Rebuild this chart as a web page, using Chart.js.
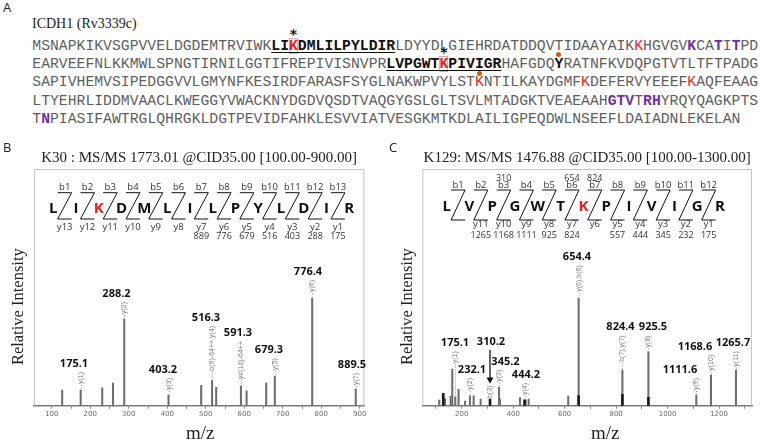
<!DOCTYPE html>
<html>
<head>
<meta charset="utf-8">
<script src="https://cdn.jsdelivr.net/npm/chart.js@4.4.1/dist/chart.umd.min.js"></script>
<style>
  html, body { margin: 0; padding: 0; background: #fff; }
  #fig { position: relative; width: 760px; height: 445px; overflow: hidden; }
  .plabel { position: absolute; font: 13px "Open Sans", sans-serif; color: #222; line-height: 1; z-index: 2; }
  #seqTitle { position: absolute; left: 32px; top: 15px; font: 14px/18px "Liberation Serif", serif; color: #222; }
  #seq { position: absolute; left: 32.3px; top: 36.5px; font: 14.75px/18.4px "Liberation Mono", monospace; color: #5e5e5e; white-space: pre; }
  #seq > div { position: relative; }
  .pep { color: #111; font-weight: bold; text-decoration: underline; text-underline-offset: 2px; }
  .red { color: #ec1c24; }
  .pur { color: #7030a0; font-weight: bold; }
  .blk { color: #111; font-weight: bold; }
  .mod { color: #ec1c24; position: relative; box-shadow: inset 0 0 0 1px #f4a3a3; }
  .mod::before { content: '*'; position: absolute; left: 0; right: 0; text-align: center; top: -11px;
                 font: bold 14px/14px "DejaVu Sans", sans-serif; color: #111; z-index: 3; }
  .dot { position: relative; }
  .dot::after { content: ''; position: absolute; width: 5px; height: 5px; border-radius: 50%;
                background: #c0600f; left: 50%; margin-left: -2.5px; top: -3.5px; }
  canvas { position: absolute; top: 140px; }
  #chartB { left: 0; }
  #chartC { left: 380px; }
</style>
</head>
<body>
<div id="fig">
  <div class="plabel" style="left:3px;top:1px">A</div>
  <div id="seqTitle">ICDH1 (Rv3339c)</div>
  <div id="seq"><div>MSNAPKIKVSGPVVELDGDEMTRVIWK<span class="pep">LI<span class="mod">K</span>DMLILPYLDIR</span>LDYYDLGIEHRDATDDQVTIDAAYAIK<span class="red">K</span>HGVGV<span class="pur">K</span>CA<span class="pur">T</span>I<span class="pur">T</span>PD</div><div>EARVEEFNLKKMWLSPNGTIRNILGGTIFREPIVISNVPR<span class="pep">LVPGWT<span class="mod">K</span>PIVIGR</span>HAFGDQ<span class="blk dot">Y</span>RATNFKVDQPGTVTLTFTPADG</div><div>SAPIVHEMVSIPEDGGVVLGMYNFKESIRDFARASFSYGLNAKWPVYLST<span class="red dot">K</span>NTILKAYDGMF<span class="red">K</span>DEFERVYEEEF<span class="red">K</span>AQFEAAG</div><div>LTYEHRLIDDMVAACLKWEGGYVWACKNYDGDVQSDTVAQGYGSLGLTSVLMTADGKTVEAEAAH<span class="pur">GTV</span>T<span class="pur">RH</span>YRQYQAGKPTS</div><div>T<span class="pur">N</span>PIASIFAWTRGLQHRGKLDGTPEVIDFAHKLESVVIATVESGKMTKDLAILIGPEQDWLNSEEFLDAIADNLEKELAN</div></div>
  <div class="plabel" style="left:3px;top:141px">B</div>
  <div class="plabel" style="left:389px;top:141px">C</div>
  <canvas id="chartB" width="380" height="305"></canvas>
  <canvas id="chartC" width="380" height="305"></canvas>
</div>
<script>
// ---------- panel B : K30, peptide LIKDMLILPYLDIR ----------
const peptideB = ['L','I','K','D','M','L','I','L','P','Y','L','D','I','R'];
const bIonB = ['b1','b2','b3','b4','b5','b6','b7','b8','b9','b10','b11','b12','b13'];
const bMassB = ['','','','','','','','','','','','',''];
const yIonB = ['y13','y12','y11','y10','y9','y8','y7','y6','y5','y4','y3','y2','y1'];
const yMassB = ['','','','','','','889','776','679','516','403','288','175'];
const mzB = [127, 175.1, 231, 259, 288.2, 403.2, 488, 516.3, 527, 591.3, 606, 657, 679.3, 776.4, 889.5];
const intensityB = [6.6, 6.6, 7.6, 9.6, 36.6, 4.5, 8.6, 10.6, 7.8, 8.3, 6.3, 9.6, 12.5, 45.5, 7.0];
const peakLabelB = ['175.1','288.2','403.2','516.3','591.3','679.3','776.4','889.5'];
const ionNoteB = ['y(1)','y(2)','y(3)','b(9)-64++,y(4)','y#(10)-64++','y(5)','y(6)','y(7)'];
const tickLabelB = [100, 200, 300, 400, 500, 600, 700, 800, 900];

// ---------- panel C : K129, peptide LVPGWTKPIVIGR ----------
const peptideC = ['L','V','P','G','W','T','K','P','I','V','I','G','R'];
const bIonC = ['b1','b2','b3','b4','b5','b6','b7','b8','b9','b10','b11','b12'];
const bMassC = ['','','310','','','654','824','','','','',''];
const yIonC = ['','y11','y10','y9','y8','y7','y6','y5','y4','y3','y2','y1'];
const yMassC = ['','1265','1168','1111','925','824','','557','444','345','232','175'];
const mzC = [113, 135, 157, 163.5, 175.1, 188, 213, 232.1, 246.6, 273.8, 345.2, 349, 426.6, 448.7, 460.4, 614, 654.4, 824.4, 925.5, 1111.6, 1168.6, 1265.7];
const intensityC = [2.4, 3.0, 4.1, 15.5, 3.8, 6.9, 2.0, 4.2, 4.2, 2.8, 7.8, 2.8, 3.4, 2.4, 2.8, 4.1, 45.5, 15.1, 22.8, 4.5, 13.0, 15.1];
const mzDarkC = [128.5, 310.2, 444.2, 654.4, 824.4, 925.5];
const intensityDarkC = [5.2, 2.8, 2.5, 4.3, 4.8, 3.5];
const peakLabelC = ['175.1','232.1','310.2','345.2','444.2','654.4','824.4','925.5','1111.6','1168.6','1265.7'];
const ionNoteC = ['y(1)','y(2)','b(3)','y(3)','y(4)','y(6),b(6)','b(7),y(7)','y(8)','y(9)','y(10)','y(11)'];
const tickLabelC = [200, 400, 600, 800, 1000, 1200];

// label placement (intensity level of the label, horizontal nudge in px)
const labelLevelB = [17.6, 47.2, 15.1, 37.1, 30.7, 23.5, 56.5, 17.2];
const labelDxB = [-7, -7.5, -6, -6, -3, -6, -4, -4];
const labelLevelC = [26.4, 15.1, 27.0, 18.6, 13.0, 62.7, 33.1, 33.1, 15.1, 24.9, 26.4];
const labelDxC = [0, 2, 1, 6.5, 1, -2, -1.5, 5, -16, -16, -3];

function points(xs, ys) {
  return xs.map((v, i) => ({x: v, y: ys[i]}));
}

function peakTop(chart, mz) {
  let top = 0;
  chart.data.datasets.forEach(ds => ds.data.forEach(p => {
    if (Math.abs(p.x - mz) < 0.05 && p.y > top) top = p.y;
  }));
  return top;
}

const decor = {
  id: 'decor',
  afterDraw(chart, args, o) {
    const {ctx, chartArea: a, scales: {x, y}} = chart;
    ctx.save();

    // frame around plot
    ctx.strokeStyle = '#c4c4c4';
    ctx.lineWidth = 1;
    ctx.beginPath();
    ctx.moveTo(a.left + 0.5, a.bottom);
    ctx.lineTo(a.left + 0.5, a.top + 0.5);
    ctx.lineTo(a.right - 0.5, a.top + 0.5);
    ctx.lineTo(a.right - 0.5, a.bottom);
    ctx.stroke();

    // fragment map of the peptide
    const s = o.seq;
    const x0 = a.left + s.left;
    ctx.textAlign = 'center';
    ctx.textBaseline = 'middle';
    ctx.font = 'bold 15px "Open Sans", sans-serif';
    s.residues.forEach((r, i) => {
      ctx.fillStyle = i === s.mod ? '#e8201c' : '#111';
      ctx.fillText(r, x0 + i * s.step, a.top + s.letterDy);
    });
    ctx.strokeStyle = '#111';
    ctx.lineWidth = 1;
    for (let j = 0; j < s.residues.length - 1; j++) {
      const xs = x0 + (j + 0.5) * s.step;
      const t = a.top + s.topDy, b = a.top + s.botDy;
      ctx.beginPath();
      ctx.moveTo(xs - 7, t); ctx.lineTo(xs + 7, t);
      ctx.lineTo(xs - 7, b); ctx.lineTo(xs + 7, b);
      ctx.stroke();
      ctx.fillStyle = '#333';
      ctx.font = '9.5px "Open Sans", sans-serif';
      ctx.fillText(s.bIon[j], xs, a.top + s.bDy);
      ctx.fillText(s.yIon[j], xs, a.top + s.yDy);
      ctx.font = '9px "Open Sans", sans-serif';
      if (s.bMass[j]) ctx.fillText(s.bMass[j], xs, a.top + s.bMassDy);
      if (s.yMass[j]) ctx.fillText(s.yMass[j], xs, a.top + s.yMassDy);
    }

    // peak labels with ion annotations
    o.labels.forEach((txt, i) => {
      const mz = parseFloat(txt);
      const px = Math.round(x.getPixelForValue(mz));
      const top = y.getPixelForValue(peakTop(chart, mz));
      const ly = y.getPixelForValue(o.levels[i]);
      ctx.font = 'bold 11px "Open Sans", sans-serif';
      ctx.fillStyle = '#111';
      ctx.textAlign = 'center';
      ctx.textBaseline = 'middle';
      ctx.fillText(txt, px + o.dx[i], ly);

      ctx.font = '7px "Liberation Sans", sans-serif';
      const w = ctx.measureText(o.notes[i]).width;
      let t0, t1;
      if (o.arrow.includes(txt)) {
        t1 = top - 1; t0 = t1 - w;
        ctx.strokeStyle = '#111'; ctx.fillStyle = '#111'; ctx.lineWidth = 1.3;
        ctx.beginPath(); ctx.moveTo(px, ly + 8); ctx.lineTo(px, t0 - 7); ctx.stroke();
        ctx.beginPath(); ctx.moveTo(px - 3.5, t0 - 8); ctx.lineTo(px + 3.5, t0 - 8); ctx.lineTo(px, t0 - 2); ctx.closePath(); ctx.fill();
      } else {
        t0 = ly + 8; t1 = t0 + w;
      }
      ctx.save();
      ctx.translate(px + 0.5, t0);
      ctx.rotate(-Math.PI / 2);
      ctx.fillStyle = '#7a7a7a';
      ctx.textAlign = 'right';
      ctx.textBaseline = 'middle';
      ctx.fillText(o.notes[i], 0, 0);
      ctx.restore();
      if (top - t1 > 2) {
        ctx.strokeStyle = '#999'; ctx.lineWidth = 1;
        ctx.setLineDash([1, 1.5]);
        ctx.beginPath(); ctx.moveTo(px + 0.5, t1 + 1); ctx.lineTo(px + 0.5, top); ctx.stroke();
        ctx.setLineDash([]);
      }
    });

    // axis titles
    ctx.fillStyle = '#222';
    ctx.font = '16.5px "Liberation Serif", serif';
    ctx.textAlign = 'center';
    ctx.textBaseline = 'middle';
    ctx.save();
    ctx.translate(a.left - 15, a.bottom - 99);
    ctx.rotate(-Math.PI / 2);
    ctx.fillText('Relative Intensity', 0, 0);
    ctx.restore();
    ctx.font = '19px "Liberation Serif", serif';
    ctx.fillText('m/z', (a.left + a.right) / 2 + o.xTitleDx, a.bottom + 28.5);
    ctx.restore();
  }
};

function makeSpectrum(id, cfg) {
  const datasets = [{
    data: points(cfg.mz, cfg.intensity),
    backgroundColor: '#6e6e6e',
    barThickness: 1.4,
    grouped: false,
    order: 1
  }];
  if (cfg.mzDark) {
    datasets.push({
      data: points(cfg.mzDark, cfg.intensityDark),
      backgroundColor: '#1a1a1a',
      barThickness: 2,
      grouped: false,
      order: 0
    });
  }
  return new Chart(document.getElementById(id), {
    type: 'bar',
    data: {datasets: datasets},
    options: {
      responsive: false,
      animation: false,
      layout: {padding: cfg.padding},
      plugins: {
        legend: {display: false},
        tooltip: {enabled: false},
        title: {
          display: true,
          text: cfg.title,
          color: '#222',
          font: {family: '"Liberation Serif", serif', size: 15, weight: 'normal', lineHeight: 1.2},
          padding: {top: 9, bottom: 2}
        },
        decor: cfg.decor
      },
      scales: {
        x: {
          type: 'linear',
          min: cfg.min, max: cfg.max,
          offset: false,
          afterFit: s => { s.height = 39.3; },
          grid: {display: true, drawOnChartArea: false, offset: false, tickLength: 3, color: '#808080', tickWidth: 1},
          border: {display: true, color: '#7a7a7a', width: 1.5},
          ticks: {
            stepSize: cfg.step,
            includeBounds: false,
            autoSkip: false,
            maxRotation: 0,
            padding: 1,
            color: '#6a6a6a',
            font: {family: '"DejaVu Sans", sans-serif', size: 7},
            callback: v => cfg.tickLabels.includes(v) ? String(v) : ''
          }
        },
        y: {min: 0, max: 100, display: false}
      }
    },
    plugins: [decor]
  });
}

makeSpectrum('chartB', {
  title: 'K30 : MS/MS 1773.01 @CID35.00 [100.00-900.00]',
  mz: mzB, intensity: intensityB,
  min: 53.8, max: 911.7, step: 50, tickLabels: tickLabelB,
  padding: {left: 34, right: 15.7, top: 0, bottom: 0},
  decor: {
    labels: peakLabelB, notes: ionNoteB, levels: labelLevelB, dx: labelDxB, arrow: [],
    xTitleDx: 1,
    seq: {residues: peptideB, mod: 2, bIon: bIonB, yIon: yIonB, bMass: bMassB, yMass: yMassB,
          left: 19.3, step: 22.77, letterDy: 39.3, topDy: 23.7, botDy: 50, bDy: 18.5, yDy: 58, bMassDy: 10, yMassDy: 67}
  }
});

makeSpectrum('chartC', {
  title: 'K129: MS/MS 1476.88 @CID35.00 [100.00-1300.00]',
  mz: mzC, intensity: intensityC, mzDark: mzDarkC, intensityDark: intensityDarkC,
  min: 47, max: 1328, step: 100, tickLabels: tickLabelC,
  padding: {left: 42.3, right: 8, top: 0, bottom: 0},
  decor: {
    labels: peakLabelC, notes: ionNoteC, levels: labelLevelC, dx: labelDxC, arrow: ['310.2'],
    xTitleDx: 18,
    seq: {residues: peptideC, mod: 6, bIon: bIonC, yIon: yIonC, bMass: bMassC, yMass: yMassC,
          left: 24.4, step: 22.78, letterDy: 37.7, topDy: 21, botDy: 51, bDy: 16.5, yDy: 55.5, bMassDy: 9.5, yMassDy: 66.5}
  }
});
</script>
</body>
</html>
